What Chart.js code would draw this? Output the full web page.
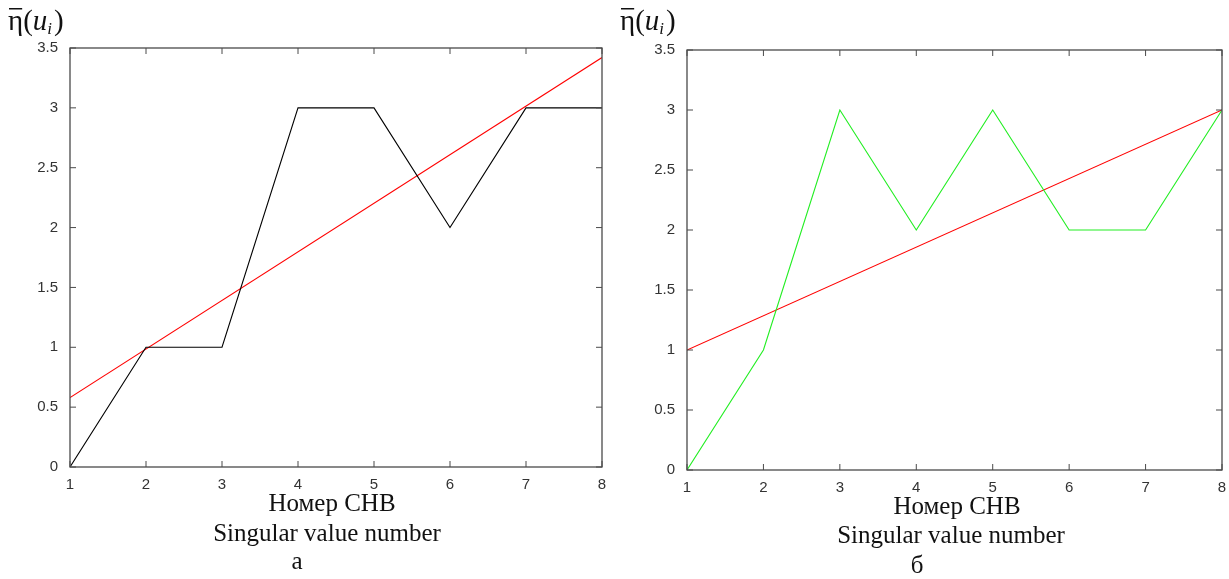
<!DOCTYPE html>
<html>
<head>
<meta charset="utf-8">
<script src="https://cdn.jsdelivr.net/npm/chart.js@4"></script>
<style>
  html, body { margin: 0; padding: 0; background: #fff; }
  body { width: 1229px; height: 579px; position: relative; overflow: hidden; }
  .panel { position: absolute; top: 0; height: 579px; }
  #panel-a { left: 0; width: 614px; }
  #panel-b { left: 614px; width: 615px; }
</style>
</head>
<body>
<div class="panel" id="panel-a"><canvas id="chart-a"></canvas></div>
<div class="panel" id="panel-b"><canvas id="chart-b"></canvas></div>
<script>
// Singular value numbers 1..8
const svNumbers = [1, 2, 3, 4, 5, 6, 7, 8]

// Panel a: eta values and fitted trend (end points)
const etaA = [0, 1, 1, 3, 3, 2, 3, 3]
const trendAx = [1, 8]
const trendAy = [0.58, 3.42]

// Panel b
const etaB = [0, 1, 3, 2, 3, 2, 2, 3]
const trendBx = [1, 8]
const trendBy = [1, 3]

const yTicks = [0, 0.5, 1, 1.5, 2, 2.5, 3, 3.5]

const AXIS_COLOR = '#4a4a4a'
const TICK_LEN = 6
const SERIF = '"Liberation Serif", "Times New Roman", serif'

const toPoints = (xs, ys) => xs.map((x, i) => ({ x, y: ys[i] }))

// Box around the plot area with inward ticks on all four sides
const boxPlugin = {
  id: 'box',
  afterDatasetsDraw(chart) {
    const { ctx, chartArea: a, scales } = chart
    ctx.save()
    ctx.strokeStyle = AXIS_COLOR
    ctx.lineWidth = 1.3
    ctx.strokeRect(a.left, a.top, a.right - a.left, a.bottom - a.top)
    ctx.lineWidth = 1
    ctx.beginPath()
    svNumbers.forEach((v) => {
      const x = scales.x.getPixelForValue(v)
      ctx.moveTo(x, a.bottom); ctx.lineTo(x, a.bottom - TICK_LEN)
      ctx.moveTo(x, a.top); ctx.lineTo(x, a.top + TICK_LEN)
    })
    yTicks.forEach((v) => {
      const y = scales.y.getPixelForValue(v)
      ctx.moveTo(a.left, y); ctx.lineTo(a.left + TICK_LEN, y)
      ctx.moveTo(a.right, y); ctx.lineTo(a.right - TICK_LEN, y)
    })
    ctx.stroke()
    ctx.restore()
  },
}

// Axis captions: eta(u_i) at the top, Russian/English titles and panel letter below
const captionPlugin = {
  id: 'captions',
  afterDraw(chart, args, opts) {
    const { ctx } = chart
    ctx.save()
    ctx.fillStyle = '#111'
    ctx.textBaseline = 'alphabetic'

    // y label
    let x = opts.yLabelX
    const base = 30
    ctx.font = `29px ${SERIF}`
    ctx.textAlign = 'left'
    ctx.fillText('η', x, base)
    const etaW = ctx.measureText('η').width
    ctx.fillRect(x + 1, 8, etaW - 2, 1.5)
    x += etaW
    ctx.fillText('(', x, base)
    x += ctx.measureText('(').width
    ctx.font = `italic 29px ${SERIF}`
    ctx.fillText('u', x, base)
    x += ctx.measureText('u').width
    ctx.font = `italic 17px ${SERIF}`
    ctx.fillText('i', x, base + 4)
    x += ctx.measureText('i').width + 2
    ctx.font = `29px ${SERIF}`
    ctx.fillText(')', x, base)

    // bottom titles
    ctx.textAlign = 'center'
    ctx.font = `25px ${SERIF}`
    ctx.fillText('Номер СНВ', opts.titleX, opts.line1)
    ctx.fillText('Singular value number', opts.subX, opts.line2)
    ctx.fillText(opts.letter, opts.letterX, opts.line3)
    ctx.restore()
  },
}

const tickFont = { family: '"Liberation Sans", Arial, sans-serif', size: 15 }

function makeChart(canvasId, eta, etaColor, trendX, trendY, layout, captions) {
  return new Chart(document.getElementById(canvasId), {
    type: 'line',
    data: {
      datasets: [
        {
          data: toPoints(svNumbers, eta),
          borderColor: etaColor,
          borderWidth: 1.1,
          pointRadius: 0,
          tension: 0,
        },
        {
          data: toPoints(trendX, trendY),
          borderColor: '#ff0000',
          borderWidth: 1.1,
          pointRadius: 0,
          tension: 0,
        },
      ],
    },
    options: {
      responsive: true,
      maintainAspectRatio: false,
      animation: false,
      events: [],
      layout: { padding: { top: layout.top, right: layout.right, bottom: 0, left: 0 } },
      plugins: {
        legend: { display: false },
        tooltip: { enabled: false },
        captions,
      },
      scales: {
        x: {
          type: 'linear',
          min: 1,
          max: 8,
          grid: { display: false },
          border: { display: false },
          ticks: {
            stepSize: 1,
            padding: 1,
            color: '#333',
            font: tickFont,
            maxRotation: 0,
          },
          afterFit(scale) { scale.height = layout.xHeight },
        },
        y: {
          min: 0,
          max: 3.5,
          grid: { display: false },
          border: { display: false },
          ticks: {
            stepSize: 0.5,
            padding: 4,
            color: '#333',
            font: tickFont,
            callback: (v) => String(v),
          },
          afterFit(scale) { scale.width = layout.yWidth },
        },
      },
    },
    plugins: [boxPlugin, captionPlugin],
  })
}

makeChart('chart-a', etaA, '#000000', trendAx, trendAy,
  { top: 48, right: 12, xHeight: 112, yWidth: 70 },
  { yLabelX: 8, titleX: 332, subX: 327, letterX: 297, letter: 'а', line1: 511, line2: 541, line3: 569 })

makeChart('chart-b', etaB, '#22ee22', trendBx, trendBy,
  { top: 50, right: 7, xHeight: 109, yWidth: 73 },
  { yLabelX: 6, titleX: 957 - 614, subX: 951 - 614, letterX: 917 - 614, letter: 'б', line1: 514, line2: 543, line3: 573 })
</script>
</body>
</html>
